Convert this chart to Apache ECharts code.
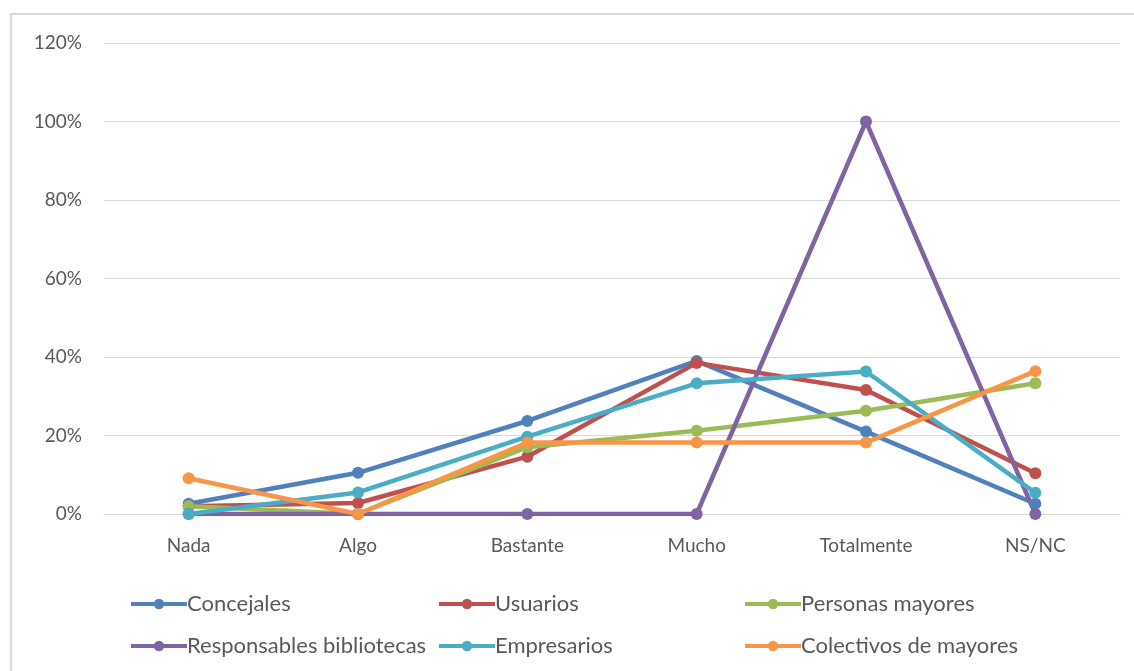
<!DOCTYPE html>
<html>
<head>
<meta charset="utf-8">
<script src="https://cdn.jsdelivr.net/npm/echarts@6/dist/echarts.min.js"></script>
<style>
html,body{margin:0;padding:0;background:#fff;}
#chart{width:1134px;height:671px;}
</style>
</head>
<body>
<div id="chart"></div>
<script>
var categories = ['Nada', 'Algo', 'Bastante', 'Mucho', 'Totalmente', 'NS/NC'];
var yTicks = [0, 20, 40, 60, 80, 100, 120];
var concejales = [2.6, 10.5, 23.7, 39.0, 21.0, 2.6];
var usuarios = [2.0, 2.8, 14.6, 38.5, 31.6, 10.4];
var personasMayores = [2.0, 0, 17.0, 21.2, 26.3, 33.3];
var responsablesBibliotecas = [0, 0, 0, 0, 100, 0];
var empresarios = [0, 5.5, 19.7, 33.3, 36.3, 5.4];
var colectivosMayores = [9.1, 0, 18.2, 18.2, 18.2, 36.4];

var FONT = 'Lato';
var TXT = '#595959';

function mk(name, data, color) {
  return {
    name: name, type: 'line', data: data,
    symbol: 'circle', symbolSize: 12,
    lineStyle: {width: 4.5, color: color},
    itemStyle: {color: color},
    emphasis: {disabled: true}
  };
}

var chart = echarts.init(document.getElementById('chart'), null, {renderer: 'canvas'});
var legendCommon = {
  orient: 'vertical', itemGap: 20, itemWidth: 56, itemHeight: 13,
  lineStyle: {width: 4},
  textStyle: {fontFamily: FONT, fontSize: 22, color: TXT, padding: [0, 0, 0, -5]},
  top: 588
};
chart.setOption({
  animation: false,
  backgroundColor: '#fff',
  graphic: [{
    type: 'rect', shape: {x: 11, y: 14, width: 1200, height: 700},
    style: {fill: 'none', stroke: '#d9d9d9', lineWidth: 2}, silent: true
  }],
  grid: {left: 104, right: 14, top: 43, bottom: 157, containLabel: false},
  xAxis: {
    type: 'category', data: categories, boundaryGap: true,
    axisLine: {show: true, lineStyle: {color: '#d9d9d9', width: 1}},
    axisTick: {show: false},
    axisLabel: {fontFamily: FONT, fontSize: 19, color: TXT, margin: 22}
  },
  yAxis: {
    type: 'value', min: yTicks[0], max: yTicks[yTicks.length - 1], interval: 20,
    axisLine: {show: false}, axisTick: {show: false},
    splitLine: {lineStyle: {color: '#d9d9d9', width: 1}},
    axisLabel: {fontFamily: FONT, fontSize: 19, color: TXT, margin: 22, formatter: '{value}%'}
  },
  legend: [
    Object.assign({left: 124, data: ['Concejales', 'Responsables bibliotecas']}, legendCommon),
    Object.assign({left: 432, data: ['Usuarios', 'Empresarios']}, legendCommon),
    Object.assign({left: 738, data: ['Personas mayores', 'Colectivos de mayores']}, legendCommon)
  ],
  series: [
    mk('Concejales', concejales, '#4F81BD'),
    mk('Usuarios', usuarios, '#C0504D'),
    mk('Personas mayores', personasMayores, '#9BBB59'),
    mk('Responsables bibliotecas', responsablesBibliotecas, '#8064A2'),
    mk('Empresarios', empresarios, '#4BACC6'),
    mk('Colectivos de mayores', colectivosMayores, '#F79646')
  ]
});
</script>
</body>
</html>
